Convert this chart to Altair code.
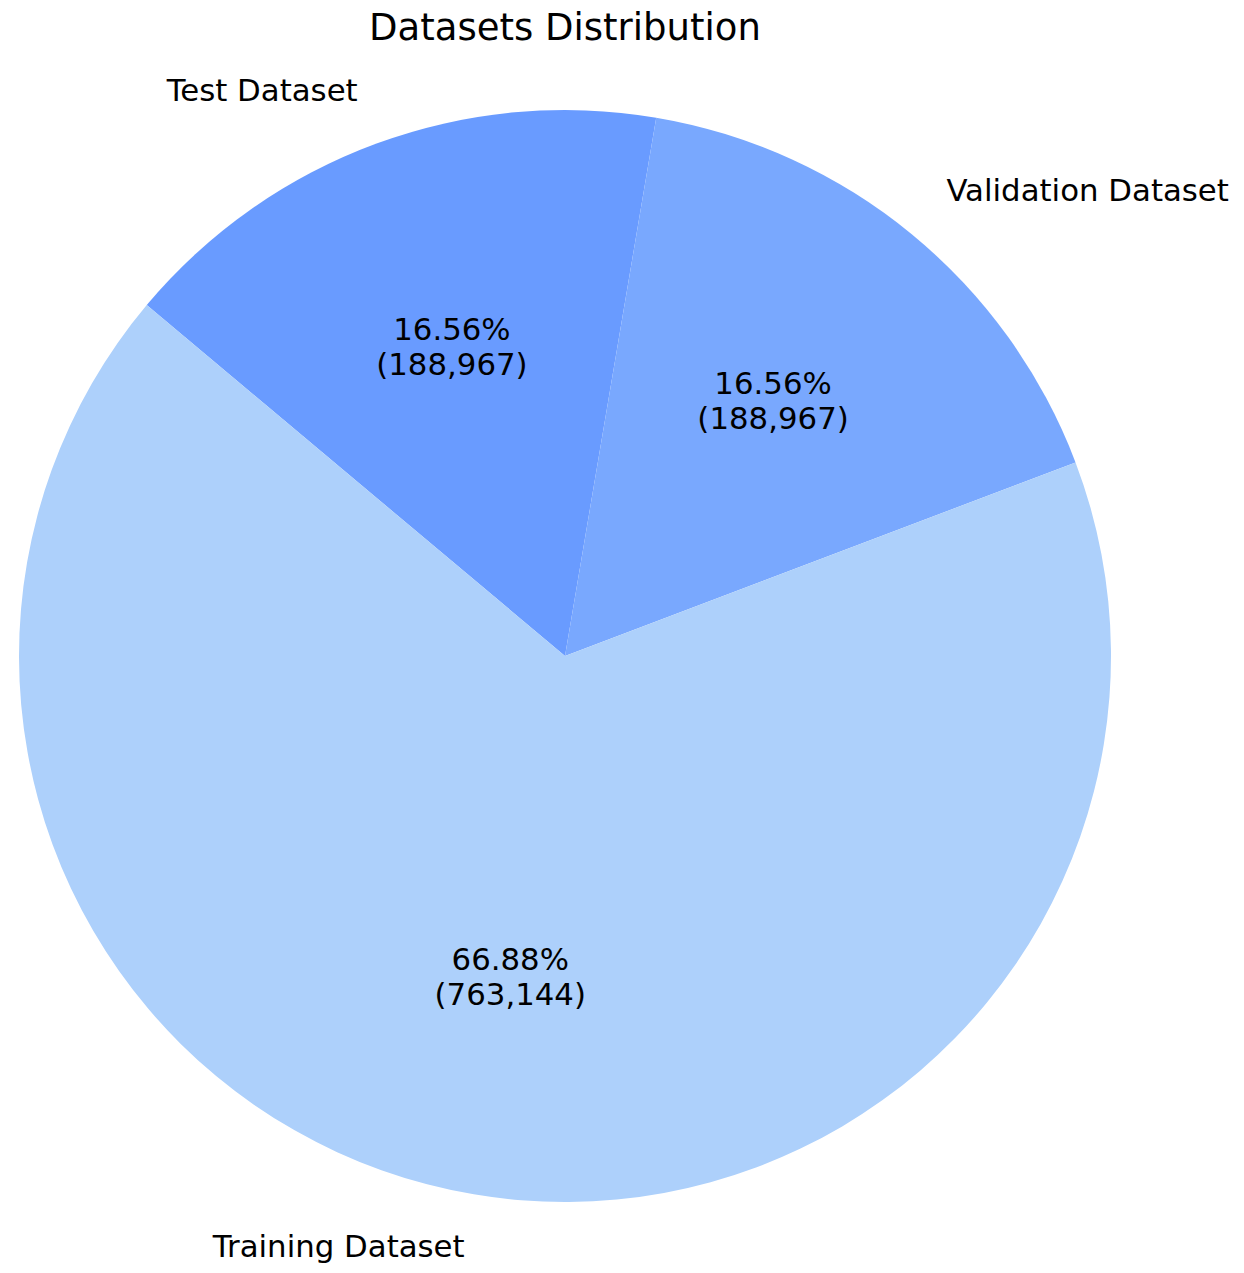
import math
import altair as alt
import pandas as pd

categories = ["Test Dataset", "Validation Dataset", "Training Dataset"]
counts = [188967, 188967, 763144]
percent_labels = ["16.56%", "16.56%", "66.88%"]
count_labels = ["(188,967)", "(188,967)", "(763,144)"]
colors = ["#699bff", "#79a8fe", "#add0fb"]
slice_order = [0, 1, 2]
label_side = ["right", "left", "right"]

df = pd.DataFrame({
    "category": categories,
    "count": counts,
    "slice_order": slice_order,
    "inner": [p + "\n" + c for p, c in zip(percent_labels, count_labels)],
    "left_label": [c if s == "left" else "" for c, s in zip(categories, label_side)],
    "right_label": [c if s == "right" else "" for c, s in zip(categories, label_side)],
})

CX, CY = 557, 604
R = 546
FONT = "DejaVu Sans"
FS = 30.8
LH = 35
start = math.radians(-50)

theta = alt.Theta("count:Q", stack=True,
                  scale=alt.Scale(range=[start, start + 2 * math.pi]))
order = alt.Order("slice_order:Q")
pos = dict(x=alt.value(CX), y=alt.value(CY))

base = alt.Chart(df)

pie = base.mark_arc(radius=R).encode(
    theta=theta,
    order=order,
    color=alt.Color("category:N", scale=alt.Scale(domain=categories, range=colors), legend=None),
    **pos,
)

inner = base.mark_text(radius=0.6 * R, font=FONT, fontSize=FS, color="black",
                       lineBreak="\n", lineHeight=LH, dy=-LH / 2,
                       align="center", baseline="middle").encode(
    theta=theta, order=order, text="inner:N", **pos)

outer_left = base.mark_text(radius=1.1 * R, font=FONT, fontSize=FS, color="black",
                            align="left", baseline="middle").encode(
    theta=theta, order=order, text="left_label:N", **pos)

outer_right = base.mark_text(radius=1.1 * R, font=FONT, fontSize=FS, color="black",
                             align="right", baseline="middle").encode(
    theta=theta, order=order, text="right_label:N", **pos)

chart = alt.layer(pie, inner, outer_left, outer_right).properties(
    width=1114,
    height=1200,
    padding={"top": 2, "left": 0, "right": 0, "bottom": 0},
    title=alt.TitleParams("Datasets Distribution", font=FONT, fontSize=37,
                          fontWeight="normal", color="black", anchor="middle"),
).configure_view(stroke=None)

chart.save("out.html", embed_options={"renderer": "svg", "actions": False})
